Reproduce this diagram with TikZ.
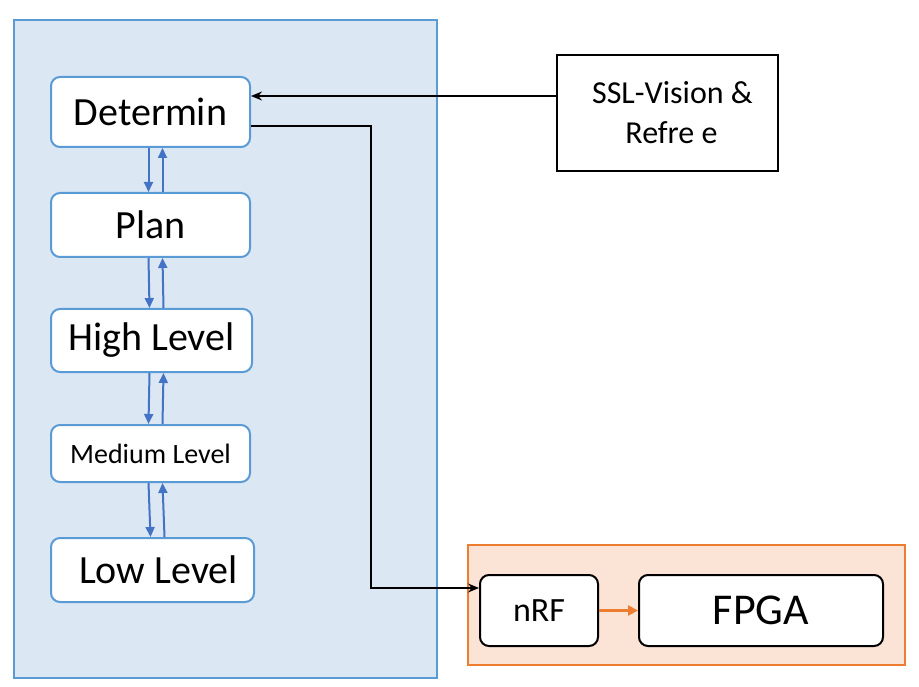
\documentclass[tikz,border=0pt]{standalone}
\usepackage{fontspec}
\setmainfont{Carlito}
\usetikzlibrary{arrows.meta}
\definecolor{bpanel}{HTML}{DCE7F4}
\definecolor{bline}{HTML}{5B9BD5}
\definecolor{barrow}{HTML}{4472C4}
\definecolor{opanel}{HTML}{FBE3D5}
\definecolor{oline}{HTML}{ED7D31}
\tikzset{
  layer/.style={draw=bline, line width=2pt, fill=white, rounded corners=9pt, inner sep=0pt},
  hw/.style={draw=black, line width=2pt, fill=white, rounded corners=9pt, inner sep=0pt},
  updown/.style={draw=barrow, line width=2pt, -{Triangle[length=10pt,width=9pt]}},
  blk/.style={draw=black, line width=1.5pt, -{Stealth[length=11pt,width=9pt]}}
}
\begin{document}
\begin{tikzpicture}[x=1pt,y=-1pt]
\useasboundingbox (0,0) rectangle (919,687);
\node[draw=bline, line width=1.6pt, fill=bpanel, minimum width=423pt, minimum height=658pt, inner sep=0pt] (bp) at (225.5,349) {};
\node[draw=oline, line width=2pt, fill=opanel, minimum width=437pt, minimum height=120pt, inner sep=0pt] (op) at (686.5,605) {};
\node[layer, minimum width=199pt, minimum height=70pt, font=\fontsize{40}{42}\selectfont] (d) at (150.5,112) {Determin};
\node[layer, minimum width=199pt, minimum height=64pt, font=\fontsize{40}{42}\selectfont] (p) at (150.5,225) {Plan};
\node[layer, minimum width=201pt, minimum height=63pt, font=\fontsize{40}{42}\selectfont] (h) at (151.5,340.5) {High Level};
\node[layer, minimum width=199pt, minimum height=57pt, font=\fontsize{28}{30}\selectfont] (m) at (150.5,453.5) {Medium Level};
\node[layer, minimum width=203pt, minimum height=64pt, font=\fontsize{40}{42}\selectfont] (l) at (152.5,570) {\hspace*{12pt}Low Level};
\foreach \a/\b in {d/p,p/h,h/m,m/l}{
  \draw[updown] ([xshift=-2pt]\a.south) -- ([xshift=-2pt]\b.north);
  \draw[updown] ([xshift=12pt]\b.north) -- ([xshift=12pt]\a.south);
}
\node[draw=black, line width=2pt, fill=white, minimum width=221pt, minimum height=116pt, inner sep=0pt, align=center, font=\fontsize{32}{40}\selectfont] (s) at (667.5,113) {\hspace*{10pt}SSL-Vision \&\\ \hspace*{8pt}Refre e};
\node[hw, minimum width=118pt, minimum height=71pt, font=\fontsize{34}{36}\selectfont] (n) at (539,610.5) {nRF};
\node[hw, minimum width=244pt, minimum height=71pt, font=\fontsize{44}{46}\selectfont] (f) at (761,610.5) {FPGA};
\draw[blk] (s.west |- 0,96) -- (d.east |- 0,96);
\coordinate (c1) at (371,126);
\coordinate (c2) at (371,588);
\draw[blk] (d.east |- c1) -- (c1) -- (c2) -- (n.west |- c2);
\draw[draw=oline, line width=3pt, -{Triangle[length=10pt,width=10pt]}] (n.east) -- (f.west);
\end{tikzpicture}
\end{document}
